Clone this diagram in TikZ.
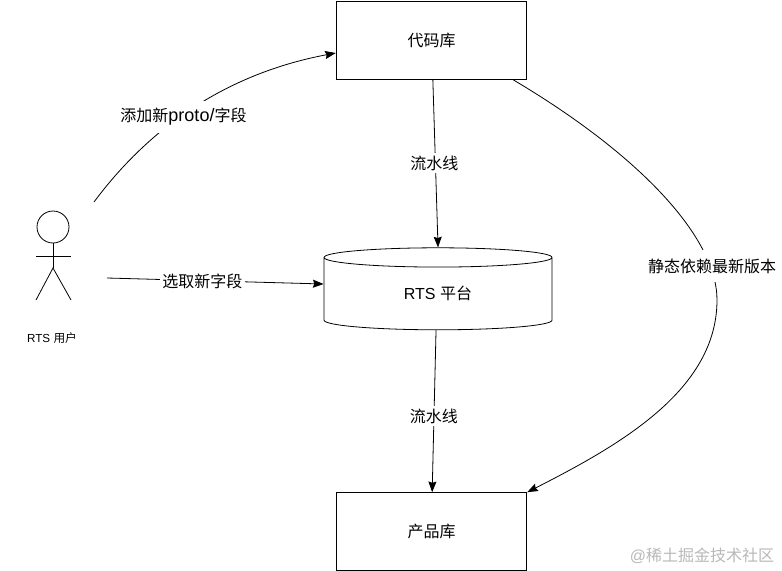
\documentclass[tikz,border=0pt]{standalone}
\usepackage{fontspec}
\setmainfont{Liberation Sans}
\newfontfamily\cjk{Noto Sans CJK SC}
\usetikzlibrary{shapes.geometric, arrows.meta, positioning}
\definecolor{markgray}{gray}{0.72}
\tikzset{
    repobox/.style={rectangle, draw, minimum width=143pt, minimum height=58.5pt, font=\large},
    store/.style={cylinder, shape border rotate=90, draw, aspect=0.25, minimum width=171pt, minimum height=61.5pt, font=\large},
    arrow/.style={-{Stealth[length=8pt, width=6pt, inset=1pt]}, line width=0.6pt},
    edgetag/.style={fill=white, inner sep=2pt, font=\large},
    curvetag/.style={edgetag, minimum height=24pt},
    figure/.style={line width=0.6pt}
}
\begin{document}
\begin{tikzpicture}[x=0.75pt, y=-0.75pt, node distance=1cm, line width=0.6pt]
    \useasboundingbox (0,0) rectangle (782,571);

    \node (repo) [repobox] at (431.5,40) {{\cjk 代码库}};
    \node (platform) [store, below=126pt of repo, xshift=4.9pt] {\raisebox{3pt}{RTS {\cjk 平台}}};
    \node (product) [repobox, below=121.5pt of platform, xshift=-4.9pt] {{\cjk 产品库}};

    % stick figure
    \node (head) [circle, draw, minimum size=24pt, inner sep=0pt, figure] at (53,227) {};
    \coordinate (hip) at (53,268);
    \coordinate (armL) at (36,256);
    \coordinate (armR) at (71,256);
    \coordinate (footL) at (36,300);
    \coordinate (footR) at (71,300);
    \draw[figure] (head.south) -- (hip);
    \draw[figure] (armL) -- (armR);
    \draw[figure] (footL) -- (hip) -- (footR);
    \node (user) [font=\fontsize{8.75}{10}\selectfont] at (52,338) {RTS {\cjk 用户}};

    \coordinate (addFrom) at (94,202);
    \coordinate (pickFrom) at (107,278);
    \coordinate (bend) at (717,300);

    \draw[arrow] (addFrom) .. controls (155,120) and (235,72) .. (repo.west |- 0,53);
    \node (addTag) [curvetag] at (183.5,116.5) {{\cjk 添加新}{\fontsize{13.5}{15}\selectfont proto/}{\cjk 字段}};
    \draw[arrow] (pickFrom) -- (platform.west |- 0,284)
        node (pickTag) [edgetag, pos=0.44, yshift=-0.75pt] {{\cjk 选取新字段}};
    \draw[arrow] ([xshift=1pt]repo.south) -- (platform.north)
        node (pipeTop) [edgetag, pos=0.5, xshift=-0.75pt] {{\cjk 流水线}};
    \draw[arrow] ([xshift=-1.5pt]platform.south) -- ([xshift=0.5pt]product.north)
        node (pipeLow) [edgetag, pos=0.53] {{\cjk 流水线}};
    \draw[arrow] ([xshift=-11pt]repo.south east) .. controls (645,158) and (717,240) .. (bend)
        .. controls (717,390) and (620,445) .. (product.north east);
    \node (staticTag) [curvetag] at (712,266) {{\cjk 静态依赖最新版本}};

    \node (mark) [text=markgray, font=\large] at (702,556) {@{\cjk 稀土掘金技术社区}};
\end{tikzpicture}
\end{document}
